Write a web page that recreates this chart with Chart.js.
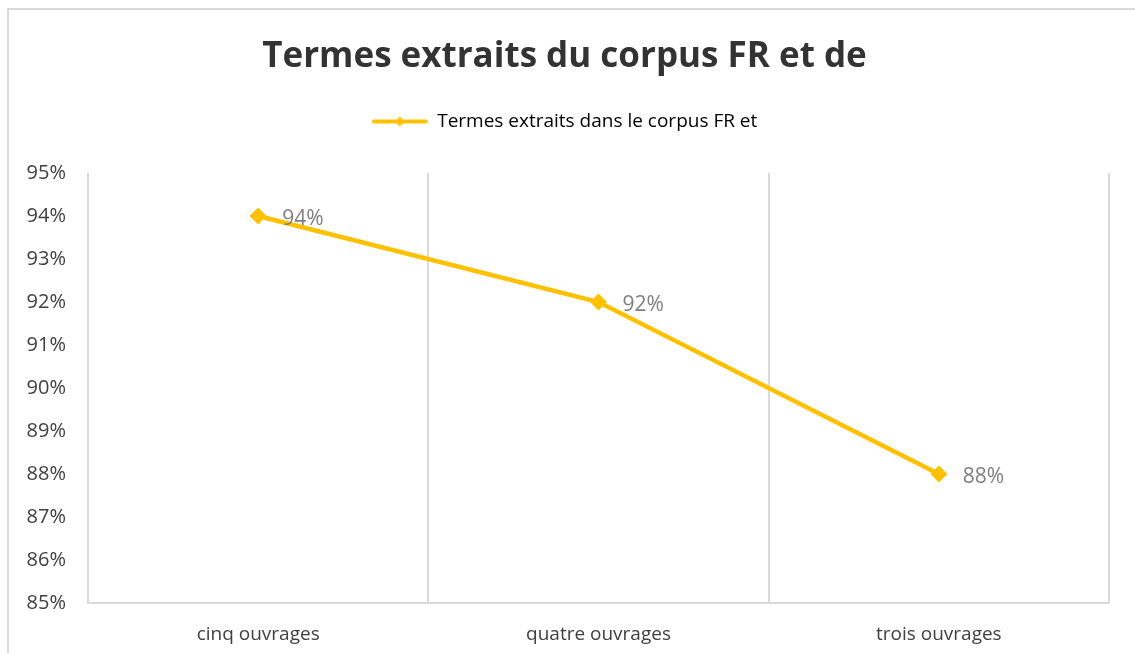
<!DOCTYPE html>
<html>
<head>
<meta charset="utf-8">
<script src="https://cdn.jsdelivr.net/npm/chart.js@4/dist/chart.umd.min.js"></script>
<style>
  html,body{margin:0;padding:0;background:#fff;overflow:hidden;}
  #wrap{position:absolute;left:0;top:0;width:1135px;height:653px;}
  #frame{position:absolute;left:7px;top:8px;width:1140px;height:660px;border-top:2px solid #d9d9d9;border-left:2px solid #d9d9d9;}
</style>
</head>
<body>
<div id="wrap">
  <div id="frame"></div>
  <canvas id="c" width="1135" height="653"></canvas>
</div>
<script>
const titleText = "Termes extraits du corpus FR et de";
const seriesName = "Termes extraits dans le corpus FR et";
const categories = ["cinq ouvrages", "quatre ouvrages", "trois ouvrages"];
const values = [0.94, 0.92, 0.88];
const yMin = 0.85, yMax = 0.95, yStep = 0.01;

const gold = "#FFC000";
const font = "'Open Sans', 'Noto Sans', sans-serif";

// legend swatch: line with diamond marker
function legendSwatch(){
    const cv = document.createElement("canvas");
    cv.width = 56; cv.height = 12;
    const g = cv.getContext("2d");
    g.strokeStyle = gold; g.lineWidth = 4; g.lineCap = "round";
    g.beginPath(); g.moveTo(2,6); g.lineTo(54,6); g.stroke();
    g.fillStyle = gold;
    g.beginPath(); g.moveTo(28,1); g.lineTo(33,6); g.lineTo(28,11); g.lineTo(23,6); g.closePath(); g.fill();
    return cv;
}

const pctLabels = {
    id: "pctLabels",
    afterDatasetsDraw(chart){
        const ctx = chart.ctx;
        const meta = chart.getDatasetMeta(0);
        ctx.save();
        ctx.font = "21px " + font;
        ctx.fillStyle = "#7f7f7f";
        ctx.textAlign = "left";
        ctx.textBaseline = "middle";
        meta.data.forEach((pt, i) => {
            ctx.fillText(Math.round(values[i]*100) + "%", pt.x + 24, pt.y + 3);
        });
        ctx.restore();
    }
};

// extra room under the legend
const legendGap = {
    id: "legendGap",
    beforeUpdate(chart){
        const lg = chart.legend;
        if(lg && !lg._gapPatched){
            const orig = lg.fit;
            lg.fit = function(){ orig.call(this); this.height += 32; };
            lg._gapPatched = true;
        }
    }
};

const ctx = document.getElementById("c").getContext("2d");
const swatch = legendSwatch();

new Chart(ctx, {
    type: "line",
    data: {
        labels: categories,
        datasets: [{
            label: seriesName,
            data: values,
            borderColor: gold,
            backgroundColor: gold,
            borderWidth: 4.5,
            pointStyle: "rectRot",
            pointRadius: 8,
            pointBorderWidth: 1,
            pointBackgroundColor: gold,
            pointBorderColor: gold,
            tension: 0
        }]
    },
    options: {
        responsive: false,
        animation: false,
        layout: { padding: { left: 20, right: 26, top: 20, bottom: 8 } },
        plugins: {
            title: {
                display: true,
                text: titleText,
                color: "#333333",
                font: { family: font, size: 35, weight: "bold" },
                padding: { top: 16, bottom: 24 }
            },
            legend: {
                display: true,
                position: "top",
                labels: {
                    color: "#404040",
                    font: { family: font, size: 19 },
                    usePointStyle: true,
                    pointStyleWidth: 56,
                    padding: 10,
                    generateLabels: () => [{
                        text: seriesName,
                        pointStyle: swatch,
                        fillStyle: gold,
                        strokeStyle: gold,
                        lineWidth: 0,
                        datasetIndex: 0
                    }]
                }
            },
            tooltip: { enabled: false }
        },
        scales: {
            x: {
                offset: true,
                grid: { offset: true, color: "#d9d9d9", lineWidth: 2, drawTicks: false },
                border: { display: true, color: "#d9d9d9", width: 2 },
                ticks: { color: "#404040", font: { family: font, size: 19 }, padding: 20 },
                afterFit(s){ s.height = 42; }
            },
            y: {
                min: yMin,
                max: yMax,
                grid: { display: false, drawTicks: false },
                border: { display: false },
                ticks: {
                    stepSize: yStep,
                    color: "#404040",
                    font: { family: font, size: 20 },
                    padding: 22,
                    callback: v => Math.round(v*100) + "%"
                },
                afterFit(s){ s.width = 68; }
            }
        }
    },
    plugins: [pctLabels, legendGap]
});
</script>
</body>
</html>
